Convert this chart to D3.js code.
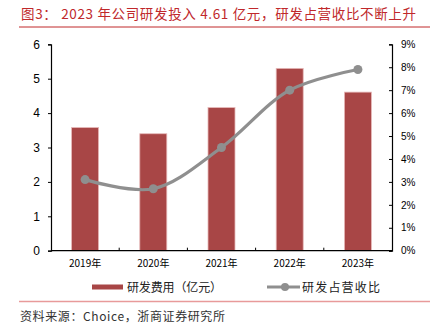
<!DOCTYPE html>
<html><head><meta charset="utf-8">
<script src="https://cdn.jsdelivr.net/npm/d3@7"></script>
<style>body{margin:0;background:#fff}svg{display:block}</style>
</head><body>
<script>
const categories = ["2019年","2020年","2021年","2022年","2023年"];
const rdExpense = [3.58, 3.40, 4.16, 5.30, 4.61];
const rdRatio = [3.1, 2.7, 4.5, 7.0, 7.9];
const leftTicks = [0,1,2,3,4,5,6];
const rightTicks = [0,1,2,3,4,5,6,7,8,9];
const title = "图3： 2023 年公司研发投入 4.61 亿元，研发占营收比不断上升";
const source = "资料来源：Choice，浙商证券研究所";
const seriesNames = ["研发费用（亿元）","研发占营收比"];

const W=440,H=334;
const svg=d3.select("body").append("svg").attr("width",W).attr("height",H);
const font="'Noto Sans CJK SC', 'Liberation Sans', sans-serif";
const L=51,R=392,T=44.3,B=250.7;

svg.append("text").attr("x",21).attr("y",18.5).attr("fill","#C0282B")
  .attr("font-family",font).attr("font-size",13.5)
  .attr("textLength",395).attr("lengthAdjust","spacing").text(title);
svg.append("line").attr("x1",19).attr("x2",430).attr("y1",27).attr("y2",27).attr("stroke","#C0282B").attr("stroke-width",1);

const x=d3.scaleBand().domain(categories).range([L,R]).paddingInner(0).paddingOuter(0);
const yL=d3.scaleLinear().domain([0,6]).range([B,T]);
const yR=d3.scaleLinear().domain([0,9]).range([B,T]);

// bars
const bw=27;
svg.append("g").selectAll("rect").data(rdExpense).join("rect")
  .attr("x",(d,i)=>x(categories[i])+x.bandwidth()/2-bw/2)
  .attr("y",d=>yL(d)).attr("width",bw).attr("height",d=>B-yL(d))
  .attr("fill","#A84646").attr("stroke","#E6B8B8").attr("stroke-width",0.8);

// axes
const axL=svg.append("g").attr("transform",`translate(${L},0)`)
  .call(d3.axisLeft(yL).tickValues(leftTicks).tickSize(3).tickPadding(8).tickFormat(d3.format("d")));
const axR=svg.append("g").attr("transform",`translate(${R},0)`)
  .call(d3.axisRight(yR).tickValues(rightTicks).tickSize(-3).tickPadding(9).tickFormat(d=>d+"%"));
const axB=svg.append("g").attr("transform",`translate(0,${B})`)
  .call(d3.axisBottom(x).tickSize(0).tickPadding(9));
[axL,axR,axB].forEach(g=>{
  g.select(".domain").attr("stroke","#000").attr("stroke-width",1.2);
  g.selectAll(".tick line").attr("stroke","#000");
  g.selectAll("text").attr("font-family",font).attr("fill","#000");
});
axL.selectAll("text").attr("font-size",12).attr("font-family","'Liberation Sans', Arial, sans-serif");
axR.selectAll("text").attr("font-size",10).attr("font-family","'Liberation Sans', Arial, sans-serif");
axB.selectAll("text").attr("font-size",10);
axB.select(".domain").attr("d",`M${L},0H${R}`);
// category boundary ticks
svg.append("g").selectAll("line").data(categories.slice(1)).join("line")
  .attr("x1",d=>x(d)).attr("x2",d=>x(d)).attr("y1",B).attr("y2",B-3).attr("stroke","#000");

// line
const pts=rdRatio.map((v,i)=>[x(categories[i])+x.bandwidth()/2,yR(v)]);
svg.append("path").attr("d",d3.line().curve(d3.curveCatmullRom.alpha(0.5))(pts))
  .attr("fill","none").attr("stroke","#8F8F8F").attr("stroke-width",3.2);
svg.append("g").selectAll("circle").data(pts).join("circle")
  .attr("cx",d=>d[0]).attr("cy",d=>d[1]).attr("r",4.5).attr("fill","#8F8F8F");

// legend
const ly=287;
svg.append("rect").attr("x",92).attr("y",ly-2.5).attr("width",31).attr("height",5).attr("fill","#A84646");
svg.append("text").attr("x",127).attr("y",ly+4.5).attr("font-family",font).attr("font-size",12).attr("fill","#222")
  .attr("textLength",95).attr("lengthAdjust","spacing").text(seriesNames[0]);
svg.append("line").attr("x1",267).attr("x2",300).attr("y1",ly).attr("y2",ly).attr("stroke","#8F8F8F").attr("stroke-width",3.2);
svg.append("circle").attr("cx",285).attr("cy",ly).attr("r",4).attr("fill","#8F8F8F");
svg.append("text").attr("x",302).attr("y",ly+4.5).attr("font-family",font).attr("font-size",12).attr("fill","#222")
  .attr("textLength",78).attr("lengthAdjust","spacing").text(seriesNames[1]);

svg.append("line").attr("x1",19).attr("x2",430).attr("y1",301.5).attr("y2",301.5).attr("stroke","#E89A9A").attr("stroke-width",1.5);
svg.append("text").attr("x",20).attr("y",321).attr("font-family",font).attr("font-size",12).attr("fill","#333")
  .attr("textLength",205).attr("lengthAdjust","spacing").text(source);
</script>
</body></html>
